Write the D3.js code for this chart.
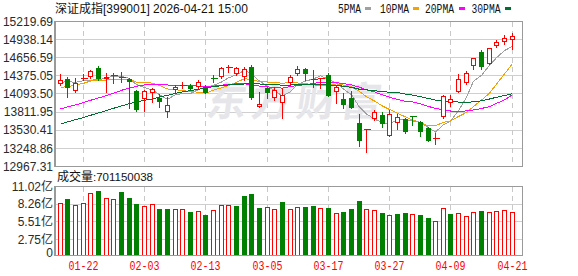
<!DOCTYPE html>
<html><head><meta charset="utf-8">
<script src="https://cdn.jsdelivr.net/npm/d3@7"></script>
<style>html,body{margin:0;padding:0;background:#fff;}svg{display:block}</style>
</head><body>
<svg id="c" width="578" height="276"></svg>
<script>
const dates = ["01-19","01-20","01-21","01-22","01-23","01-26","01-27","01-28","01-29","01-30",
"02-02","02-03","02-04","02-05","02-06","02-09","02-10","02-11","02-12","02-13",
"02-24","02-25","02-26","02-27","03-02","03-03","03-04","03-05","03-06","03-09",
"03-10","03-11","03-12","03-13","03-16","03-17","03-18","03-19","03-20","03-23",
"03-24","03-25","03-26","03-27","03-30","03-31","04-01","04-02","04-03","04-07",
"04-08","04-09","04-10","04-13","04-14","04-15","04-16","04-17","04-20","04-21"];
const openP = [14243.35,14326.31,14134.46,14336.68,14362.60,14502.60,14321.12,14388.53,14352.23,14326.31,
14139.65,14015.21,14103.35,14025.58,13818.18,14150.02,14212.24,14212.24,14207.05,14196.68,
14336.68,14352.23,14492.23,14398.90,14352.23,14507.78,13890.77,14181.13,14035.95,13947.80,
14258.90,14398.90,14476.67,14326.31,14326.31,14388.53,14129.28,14015.21,14035.95,13636.70,
13533.00,13704.11,13766.33,13444.86,13636.70,13698.92,13750.77,13662.63,13569.30,13393.01,
13740.40,13958.17,14118.91,14258.90,14533.71,14751.48,14559.63,14834.44,14896.66,14938.14];
const highP = [14404.08,14362.60,14336.68,14398.90,14466.30,14533.71,14414.45,14424.82,14430.01,14347.05,
14155.20,14155.20,14191.50,14087.80,14051.50,14232.98,14274.46,14243.35,14310.75,14232.98,
14388.53,14518.15,14544.08,14518.15,14518.15,14544.08,14118.91,14207.05,14207.05,14181.13,
14388.53,14533.71,14502.60,14466.30,14347.05,14414.45,14232.98,14103.35,14139.65,13776.70,
13543.37,13844.10,13807.81,13844.10,13776.70,13724.85,13750.77,13678.18,13584.85,13481.15,
14077.43,14077.43,14398.90,14455.93,14658.15,14777.40,14813.70,14932.95,15010.73,15036.65];
const lowP = [14232.98,14051.50,14129.28,14305.57,14336.68,14310.75,14129.28,14258.90,14274.46,13870.03,
13828.55,13828.55,13973.73,13895.95,13740.40,14129.28,14181.13,14170.76,14181.13,14103.35,
14284.83,14336.68,14440.38,14388.53,14310.75,14015.21,13890.77,14025.58,13999.65,13724.85,
14232.98,14388.53,14310.75,14207.05,14191.50,14067.06,13947.80,13870.03,13880.40,13289.31,
13185.61,13688.55,13584.85,13444.86,13548.56,13481.15,13610.78,13439.67,13367.08,13310.05,
13714.48,13911.51,14118.91,14243.35,14481.86,14476.67,14554.45,14829.25,14865.55,14787.77];
const closeP = [14305.57,14181.13,14258.90,14347.05,14450.75,14326.31,14352.23,14372.97,14336.68,14284.83,
13844.10,14139.65,14165.57,13973.73,13921.88,14201.87,14227.79,14175.94,14284.83,14113.72,
14326.31,14492.23,14510.37,14502.56,14481.86,14035.95,13937.43,14108.54,14155.20,14077.43,
14362.60,14476.67,14404.08,14310.75,14336.68,14067.06,14201.87,13921.88,13880.40,13361.90,
13543.37,13807.81,13626.33,13776.70,13740.40,13496.71,13730.03,13507.08,13367.08,13403.38,
14061.87,14015.21,14321.12,14414.45,14647.78,14518.15,14803.33,14901.84,14969.25,14989.99];
const ma5 = [14274,14285,14275,14300,14309,14313,14347,14370,14368,14335,
14238,14196,14154,14082,14009,14081,14098,14100,14163,14201,
14226,14279,14345,14390,14463,14405,14294,14214,14144,14063,
14128,14236,14295,14326,14378,14319,14264,14168,14082,13887,
13782,13703,13644,13623,13699,13690,13674,13650,13568,13501,
13614,13671,13834,14043,14292,14383,14541,14657,14768,14836];
const ma10 = [14196.7,14207.1,14233.0,14258.9,14295.2,14300.4,14310.8,14316.0,14321.1,14321.6,
14275.5,14271.3,14262.0,14224.7,14171.8,14159.4,14146.9,14127.2,14122.0,14104.9,
14153.1,14188.4,14222.9,14275.8,14331.7,14315.2,14286.1,14279.4,14266.4,14262.8,
14266.4,14264.9,14254.2,14235.1,14220.5,14223.6,14250.1,14231.4,14203.9,14132.4,
14050.5,13983.6,13905.8,13852.4,13792.8,13735.7,13688.6,13647.1,13595.7,13599.9,
13651.7,13672.5,13742.0,13805.7,13896.5,13998.6,14105.9,14245.4,14405.6,14564.3];
const ma20 = [13859.7,13890.8,13921.9,13958.2,13994.5,14030.8,14067.1,14103.4,14150.0,14186.3,
14212.2,14233.0,14238.2,14238.2,14233.0,14227.8,14222.6,14217.4,14217.4,14213.3,
14214.3,14229.9,14242.5,14250.3,14251.9,14237.4,14216.7,14203.5,14194.4,14184.0,
14209.7,14226.6,14238.5,14255.4,14276.1,14269.4,14268.1,14255.4,14235.2,14197.6,
14158.5,14124.3,14080.1,14043.8,14006.7,13979.7,13969.3,13939.2,13899.8,13866.1,
13851.1,13828.0,13823.9,13829.1,13844.7,13867.3,13897.4,13946.4,14000.8,14082.2];
const ma30 = [13621.2,13657.5,13693.8,13724.9,13761.2,13797.5,13833.8,13870.0,13906.3,13942.6,
13968.6,13994.5,14015.2,14046.3,14072.3,14103.4,14124.1,14144.9,14165.6,14191.5,
14207.1,14222.6,14233.0,14243.4,14248.6,14253.7,14248.6,14243.4,14238.2,14229.8,
14231.7,14241.6,14246.4,14245.2,14241.4,14232.8,14227.8,14212.7,14197.5,14166.7,
14156.7,14145.7,14127.7,14121.1,14115.1,14091.6,14075.0,14052.7,14022.1,13998.4,
13989.6,13973.7,13967.4,13964.5,13970.0,13986.1,14014.9,14041.4,14068.5,14098.9];
const volume = [8.49,9.06,8.13,8.49,9.99,10.35,9.21,9.06,10.19,9.21,
8.34,8.03,8.29,7.56,7.56,7.51,7.51,7.10,7.20,6.63,
7.36,8.13,8.13,8.03,9.58,9.88,7.67,7.82,7.51,8.59,
7.51,7.82,7.82,8.03,7.67,7.67,6.94,7.10,7.51,8.80,
7.51,7.36,6.94,6.58,6.74,6.94,6.74,6.58,6.12,5.65,
7.61,6.74,6.89,6.43,7.05,7.20,7.05,7.20,7.36,7.01];
const volDir = ["u","d","u","u","u","d","u","u","d","d",
"d","u","u","d","d","u","u","d","u","d",
"u","u","u","d","d","d","d","u","u","d",
"u","u","d","d","u","d","u","d","d","d",
"u","u","d","u","d","d","u","d","d","u",
"u","d","u","u","u","d","u","u","u","u"];
const priceTicks = [15219.69,14938.14,14656.59,14375.05,14093.50,13811.95,13530.41,13248.86,12967.31];
const volTicks = [11.02,8.26,5.51,2.75,0];
const xTickDates = ["01-22","02-03","02-13","03-05","03-17","03-27","04-09","04-21"];
const maNames = ["5PMA","10PMA","20PMA","30PMA"];
const lastVolumeText = "701150038";

const RED="#ff0000", GREEN="#008000";
const maColors=["#a0a0a0","#f5a200","#ff00ff","#006f32"];
const svg=d3.select("#c");
const L=56, R=522.5;
const x=d3.scaleBand().domain(dates).range([56.5,516.1]).paddingInner(0.36).paddingOuter(0.18);
const cx=d=>Math.floor(x(d)+x.bandwidth()/2)+0.5;
const y=d3.scaleLinear().domain([12967.31,15219.69]).range([166.3,21.6]);
const yv=d3.scaleLinear().domain([0,11.02]).range([257.5,186.3]);
const crisp=v=>Math.floor(v)+0.5;
const VB=255;

// price grid
const g=svg.append("g").attr("shape-rendering","crispEdges");
g.selectAll(".hg").data(priceTicks.slice(1,-1)).enter().append("line")
 .attr("x1",L).attr("x2",R).attr("y1",d=>crisp(y(d))).attr("y2",d=>crisp(y(d)))
 .attr("stroke","#cfcfcf");
g.selectAll(".vg").data(volTicks.slice(1,-1)).enter().append("line")
 .attr("x1",L).attr("x2",R).attr("y1",d=>crisp(yv(d))).attr("y2",d=>crisp(yv(d)))
 .attr("stroke","#cfcfcf");
g.selectAll(".vd").data(xTickDates).enter().append("line")
 .attr("x1",d=>cx(d)).attr("x2",d=>cx(d)).attr("y1",crisp(y(15219.69))).attr("y2",crisp(y(12967.31)))
 .attr("stroke","#c8c8c8").attr("stroke-dasharray","5,4");
g.selectAll(".vd2").data(xTickDates).enter().append("line")
 .attr("x1",d=>cx(d)).attr("x2",d=>cx(d)).attr("y1",crisp(yv(11.02))).attr("y2",VB)
 .attr("stroke","#c8c8c8").attr("stroke-dasharray","5,4");

// watermark
svg.append("text").attr("x",207).attr("y",116).attr("font-family","Noto Sans CJK SC")
 .attr("font-size",40).attr("font-weight","bold").attr("letter-spacing",5)
 .attr("fill","#e6e6ea").attr("transform","skewX(-8) translate(14,0)").text("东方财富");

// MA lines
const maData=[ma5,ma10,ma20,ma30];
maData.forEach((arr,k)=>{
 const line=d3.line().x((v,i)=>cx(dates[i])).y(v=>y(v));
 svg.append("path").attr("d",line(arr)).attr("fill","none").attr("stroke",maColors[k])
  .attr("stroke-width",1).attr("shape-rendering","crispEdges");
});

// candles
const cg=svg.append("g").attr("shape-rendering","crispEdges");
dates.forEach((d,i)=>{
 const c=cx(d), o=y(openP[i]), cl=y(closeP[i]), h=y(highP[i]), l=y(lowP[i]);
 const up=closeP[i]>=openP[i];
 const col=up?RED:GREEN;
 const top=Math.round(Math.min(o,cl)), bot=Math.round(Math.max(o,cl));
 if(bot-top<=1){
  cg.append("line").attr("x1",c).attr("x2",c).attr("y1",Math.round(h)).attr("y2",Math.round(l)+1).attr("stroke",col);
  cg.append("line").attr("x1",c-3).attr("x2",c+4).attr("y1",top+0.5).attr("y2",top+0.5).attr("stroke",col);
 } else if(up){
  cg.append("line").attr("x1",c).attr("x2",c).attr("y1",Math.round(h)).attr("y2",top).attr("stroke",col);
  cg.append("line").attr("x1",c).attr("x2",c).attr("y1",bot).attr("y2",Math.round(l)+1).attr("stroke",col);
  cg.append("rect").attr("x",c-2).attr("y",top+0.5).attr("width",4).attr("height",bot-top-1)
   .attr("fill","#fff").attr("stroke",col);
 } else {
  cg.append("line").attr("x1",c).attr("x2",c).attr("y1",Math.round(h)).attr("y2",Math.round(l)+1).attr("stroke",col);
  cg.append("rect").attr("x",c-2.5).attr("y",top).attr("width",5).attr("height",bot-top).attr("fill",col);
 }
});

// volume bars
dates.forEach((d,i)=>{
 const c=cx(d), t=Math.round(yv(volume[i]));
 if(volDir[i]==="u"){
  cg.append("rect").attr("x",c-2).attr("y",t+0.5).attr("width",4).attr("height",VB-t-0.5)
   .attr("fill","#fff").attr("stroke",RED);
 } else {
  cg.append("rect").attr("x",c-2.5).attr("y",t).attr("width",5).attr("height",VB-t).attr("fill",GREEN);
 }
});

// frames
const fg=svg.append("g").attr("shape-rendering","crispEdges").attr("stroke","#9a9a9a").attr("fill","none");
fg.append("line").attr("x1",L).attr("x2",R).attr("y1",crisp(y(15219.69))).attr("y2",crisp(y(15219.69)));
fg.append("line").attr("x1",L).attr("x2",R).attr("y1",crisp(y(12967.31))).attr("y2",crisp(y(12967.31)));
fg.append("line").attr("x1",L).attr("x2",R).attr("y1",crisp(yv(11.02))).attr("y2",crisp(yv(11.02)));
fg.append("line").attr("x1",L).attr("x2",R+0.5).attr("y1",VB+0.5).attr("y2",VB+0.5).attr("stroke-width",1.5);
fg.append("line").attr("x1",R).attr("x2",R).attr("y1",crisp(y(15219.69))).attr("y2",crisp(y(12967.31)));
fg.append("line").attr("x1",R).attr("x2",R).attr("y1",crisp(yv(11.02))).attr("y2",VB+1);
fg.append("line").attr("x1",55).attr("x2",55).attr("y1",crisp(y(15219.69))-0.5).attr("y2",crisp(y(12967.31))+0.5).attr("stroke-width",2);
fg.append("line").attr("x1",55).attr("x2",55).attr("y1",crisp(yv(11.02))-0.5).attr("y2",VB+1).attr("stroke-width",2);

// y labels
svg.selectAll(".pl").data(priceTicks).enter().append("text")
 .attr("x",53).attr("y",d=>y(d)).attr("dy","0.36em").attr("text-anchor","end")
 .attr("font-family","Liberation Sans, Arial").attr("font-size",12).attr("fill","#2a2a2a")
 .text(d=>d.toFixed(2));
svg.selectAll(".vl").data(volTicks).enter().append("text")
 .attr("x",53).attr("y",d=>Math.min(yv(d),253)).attr("dy","0.36em").attr("text-anchor","end")
 .attr("font-family","Liberation Sans, Noto Sans CJK SC").attr("font-size",12).attr("fill","#2a2a2a")
 .text(d=>d===0?"0":d.toFixed(2)+"亿");

// x labels
svg.selectAll(".xl").data(xTickDates).enter().append("text")
 .attr("x",d=>cx(d)).attr("y",270).attr("text-anchor","middle")
 .attr("font-family","Liberation Mono, monospace").attr("font-size",12).attr("fill",RED)
 .attr("textLength",30).attr("lengthAdjust","spacingAndGlyphs").text(d=>d);

// title
const tt=svg.append("text").attr("x",55).attr("y",13).attr("font-size",12).attr("fill","#111")
 .attr("font-family","Noto Sans CJK SC");
tt.append("tspan").text("深证成指");
tt.append("tspan").attr("font-family","Liberation Sans").text("[399001] 2026-04-21 15:00");

// legend
const legX=[338,380,425,471.5], swX=[365,413,459,505];
maNames.forEach((n,k)=>{
 svg.append("text").attr("x",legX[k]).attr("y",12.5).attr("font-family","Liberation Mono, monospace")
  .attr("font-size",12).attr("fill","#111").attr("textLength",n.length*6-1).attr("lengthAdjust","spacingAndGlyphs").text(n);
 svg.append("rect").attr("x",swX[k]).attr("y",7).attr("width",6).attr("height",3).attr("fill",maColors[k]);
});

// volume title
const vt=svg.append("text").attr("x",57).attr("y",181).attr("font-size",12).attr("fill","#111")
 .attr("font-family","Noto Sans CJK SC");
vt.append("tspan").text("成交量");
vt.append("tspan").attr("font-family","Liberation Sans").attr("font-size",11.5).text(":"+lastVolumeText);
</script>
</body></html>
